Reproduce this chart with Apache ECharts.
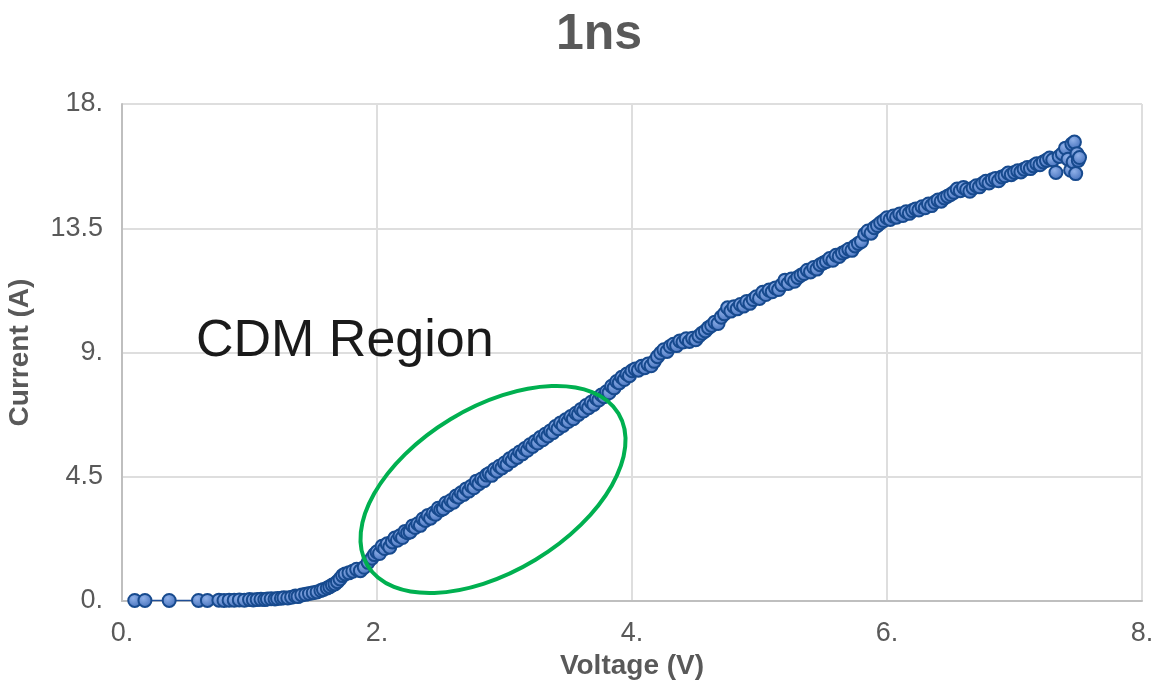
<!DOCTYPE html>
<html>
<head>
<meta charset="utf-8">
<script src="https://cdn.jsdelivr.net/npm/echarts@6/dist/echarts.min.js"></script>
<style>
html,body{margin:0;padding:0;background:#fff;}
#chart{width:1152px;height:682px;}
</style>
</head>
<body>
<div id="chart"></div>
<script>
// ---- data ----
const chartTitle = '1ns';
const xAxisName = 'Voltage (V)';
const yAxisName = 'Current (A)';
const annotationText = 'CDM Region';

const voltage = [
  0.10,0.18,0.37,0.60,0.67,0.76,0.80,0.84,0.88,0.92,0.96,1.00,1.03,1.06,1.09,1.12,1.14,1.17,1.20,1.22,
  1.25,1.27,1.30,1.33,1.36,1.38,1.41,1.44,1.47,1.50,1.53,1.56,1.58,1.61,1.63,1.65,1.67,1.69,1.71,1.73,
  1.75,1.78,1.81,1.84,1.87,1.90,1.93,1.96,1.98,
  2.00,2.02,2.04,2.06,2.08,2.10,2.12,2.14,2.16,2.18,2.20,2.22,2.24,2.26,2.28,2.30,2.32,2.34,2.36,2.38,
  2.40,2.42,2.44,2.46,2.48,2.50,2.52,2.54,2.56,2.58,2.60,2.62,2.64,2.66,2.68,2.70,2.72,2.74,2.76,2.78,
  2.80,2.82,2.84,2.86,2.88,2.90,2.92,2.94,2.96,2.98,3.00,3.02,3.04,3.06,3.08,3.10,3.12,3.14,3.16,3.18,
  3.20,3.22,3.24,3.26,3.28,3.30,3.32,3.34,3.36,3.38,3.40,3.42,3.44,3.46,3.48,3.50,3.52,3.54,3.56,3.58,
  3.60,3.62,3.64,3.66,3.68,3.70,3.72,3.74,3.76,3.78,3.80,3.82,3.84,3.86,3.88,3.90,3.92,3.94,3.96,3.98,
  4.00,4.025,4.05,4.075,4.10,4.125,4.15,4.175,4.20,4.225,4.25,4.275,4.30,4.325,4.35,4.375,4.40,4.425,4.45,4.475,
  4.50,4.525,4.55,4.575,4.60,4.625,4.65,4.675,4.70,4.725,4.75,4.775,4.80,4.825,4.85,4.875,4.90,4.925,4.95,4.975,
  5.00,5.025,5.05,5.075,5.10,5.125,5.15,5.175,5.20,5.225,5.25,5.275,5.30,5.325,5.35,5.375,5.40,5.425,5.45,5.475,
  5.50,5.525,5.55,5.575,5.60,5.625,5.65,5.675,5.70,5.725,5.75,5.775,5.80,5.825,5.85,5.875,5.90,5.925,5.95,5.975,
  6.00,6.025,6.05,6.075,6.10,6.125,6.15,6.175,6.20,6.225,6.25,6.275,6.30,6.325,6.35,6.375,6.40,6.425,6.45,6.475,
  6.50,6.525,6.55,6.575,6.60,6.625,6.65,6.675,6.70,6.725,6.75,6.775,6.80,6.825,6.85,6.875,6.90,6.925,6.95,6.975,
  7.00,7.025,7.05,7.075,7.10,7.125,7.15,7.175,7.20,7.225,7.25,7.275,7.30,7.325,7.35,7.375,7.40,7.42,7.44,7.45,
  7.46,7.47,7.48,7.49,7.50,7.51
];
const current = [
  0.02,0.02,0.02,0.02,0.02,0.03,0.02,0.03,0.03,0.04,0.03,0.05,0.04,0.05,0.06,0.05,0.07,0.08,0.07,0.09,
  0.10,0.12,0.11,0.14,0.18,0.16,0.22,0.24,0.27,0.30,0.33,0.38,0.42,0.47,0.52,0.58,0.62,0.70,0.80,0.92,
  0.98,1.02,1.08,1.15,1.10,1.22,1.40,1.55,1.68,
  1.78,1.72,1.98,1.90,2.07,1.95,2.14,2.28,2.20,2.36,2.30,2.52,2.47,2.50,2.72,2.66,2.80,2.74,2.97,2.92,
  3.10,3.00,3.18,3.14,3.36,3.30,3.34,3.55,3.48,3.64,3.58,3.80,3.76,3.92,3.86,4.06,3.98,4.16,4.10,4.34,
  4.25,4.42,4.36,4.56,4.62,4.55,4.76,4.70,4.88,4.82,5.00,4.94,5.15,5.08,5.27,5.20,5.40,5.33,5.52,5.46,
  5.66,5.60,5.78,5.72,5.92,5.84,6.04,5.98,6.16,6.10,6.32,6.24,6.45,6.36,6.56,6.50,6.68,6.60,6.80,6.76,
  6.94,6.88,7.08,7.00,7.20,7.12,7.34,7.28,7.46,7.40,7.58,7.54,7.78,7.72,7.95,7.90,8.10,8.02,8.22,8.16,
  8.34,8.40,8.36,8.50,8.45,8.58,8.52,8.68,8.85,8.98,9.10,9.04,9.22,9.30,9.25,9.42,9.38,9.50,9.40,9.52,
  9.46,9.60,9.70,9.78,9.90,9.98,10.10,10.05,10.28,10.40,10.62,10.50,10.66,10.58,10.74,10.68,10.85,10.78,10.92,11.02,
  10.96,11.18,11.10,11.26,11.20,11.34,11.28,11.45,11.62,11.50,11.66,11.58,11.72,11.80,11.86,11.98,11.92,12.08,12.02,12.18,
  12.24,12.30,12.40,12.34,12.52,12.48,12.60,12.66,12.74,12.70,12.86,12.95,13.02,13.28,13.40,13.32,13.52,13.60,13.70,13.78,
  13.88,13.82,13.94,13.90,14.02,13.96,14.10,14.04,14.14,14.20,14.16,14.28,14.24,14.38,14.32,14.44,14.52,14.48,14.60,14.66,
  14.72,14.80,14.92,14.86,14.98,14.90,14.84,14.96,15.04,15.00,15.12,15.20,15.14,15.26,15.30,15.22,15.36,15.40,15.50,15.44,
  15.52,15.58,15.54,15.64,15.70,15.66,15.76,15.84,15.80,15.90,15.96,16.04,15.98,15.52,16.10,16.20,16.40,16.00,15.60,16.55,
  15.90,16.62,15.48,16.20,15.96,16.06
];
const xTicks = [0, 2, 4, 6, 8];
const yTicks = [0, 4.5, 9, 13.5, 18];

// ---- chart ----
const FONT = '"Liberation Sans", Arial, Helvetica, sans-serif';
const points = voltage.map((v, i) => [v, current[i]]);
const fmt = v => (Number.isInteger(v) ? v + '.' : String(v));

const chart = echarts.init(document.getElementById('chart'), null, {renderer: 'canvas'});
chart.setOption({
  animation: false,
  backgroundColor: '#ffffff',
  title: {
    text: chartTitle,
    left: 551,
    top: 5,
    textStyle: {fontFamily: FONT, fontSize: 50, fontWeight: 'bold', color: '#595959'}
  },
  grid: {left: 122, right: 10, top: 104, bottom: 81, containLabel: false, outerBoundsMode: 'none'},
  xAxis: {
    type: 'value',
    min: xTicks[0],
    max: xTicks[xTicks.length - 1],
    interval: xTicks[1] - xTicks[0],
    name: xAxisName,
    nameLocation: 'middle',
    nameGap: 50,
    nameTextStyle: {fontFamily: FONT, fontSize: 28, fontWeight: 'bold', color: '#595959'},
    axisLine: {show: true, lineStyle: {color: '#bfbfbf', width: 2}},
    axisTick: {show: false},
    splitLine: {show: true, lineStyle: {color: '#dedede', width: 2}},
    axisLabel: {formatter: fmt, fontFamily: FONT, fontSize: 27, color: '#595959', margin: 19}
  },
  yAxis: {
    type: 'value',
    min: yTicks[0],
    max: yTicks[yTicks.length - 1],
    interval: yTicks[1] - yTicks[0],
    name: yAxisName,
    nameLocation: 'middle',
    nameGap: 88,
    nameTextStyle: {fontFamily: FONT, fontSize: 28, fontWeight: 'bold', color: '#595959'},
    axisLine: {show: true, lineStyle: {color: '#bfbfbf', width: 2}},
    axisTick: {show: false},
    splitLine: {show: true, lineStyle: {color: '#dedede', width: 2}},
    axisLabel: {formatter: fmt, fontFamily: FONT, fontSize: 27, color: '#595959', margin: 19}
  },
  series: [{
    type: 'line',
    data: points,
    symbol: 'circle',
    symbolSize: 13,
    showSymbol: true,
    lineStyle: {color: '#1f4e96', width: 1.5},
    itemStyle: {
      color: new echarts.graphic.RadialGradient(0.4, 0.35, 0.7, [
        {offset: 0, color: '#8fb0e8'},
        {offset: 1, color: '#3f6cb9'}
      ]),
      borderColor: '#174a8e',
      borderWidth: 2
    },
    z: 3
  }],
  graphic: [
    {
      type: 'text',
      left: 196,
      top: 316,
      z: 10,
      style: {text: annotationText, font: '52px ' + FONT, fill: '#1a1a1a'}
    },
    {
      type: 'ellipse',
      x: 493,
      y: 489.5,
      rotation: 31.2 * Math.PI / 180,
      z: 10,
      shape: {cx: 0, cy: 0, rx: 146.7, ry: 82.1},
      style: {fill: 'none', stroke: '#00b050', lineWidth: 4}
    }
  ]
});
</script>
</body>
</html>
